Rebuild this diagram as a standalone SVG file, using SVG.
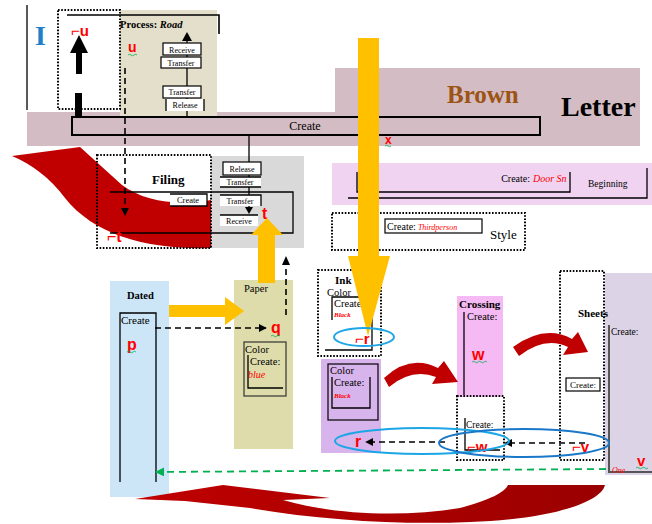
<svg xmlns="http://www.w3.org/2000/svg" width="652" height="524" viewBox="0 0 652 524">
<defs>
<style>
.s{font-family:"Liberation Serif","Times New Roman",serif;fill:#000}
.b{font-weight:bold}
.i{font-style:italic}
.red{fill:#ff0000}
.lab{font-family:"Liberation Sans","DejaVu Sans",sans-serif;fill:#ff0000;font-weight:bold}
.dot{fill:none;stroke:#000;stroke-width:2;stroke-dasharray:1.6,1.6}
.ln{fill:none;stroke:#000;stroke-width:1.3}
.box{fill:#fff;stroke:#000;stroke-width:1.2}
.dash{fill:none;stroke:#000;stroke-width:1.6;stroke-dasharray:6,4}
.wavy{fill:none;stroke:#00b050;stroke-width:0.8}
</style>
<marker id="ah" viewBox="0 0 10 10" refX="9" refY="5" markerWidth="8" markerHeight="8" markerUnits="userSpaceOnUse" orient="auto"><path d="M0,0 L10,5 L0,10 Z" fill="#000"/></marker>
<marker id="ahg" viewBox="0 0 10 10" refX="9" refY="5" markerWidth="9" markerHeight="9" markerUnits="userSpaceOnUse" orient="auto"><path d="M0,0 L10,5 L0,10 Z" fill="#00b050"/></marker>
<linearGradient id="rg" x1="0" y1="0" x2="1" y2="0"><stop offset="0" stop-color="#c00000"/><stop offset="1" stop-color="#9a0000"/></linearGradient>
</defs>
<rect width="652" height="524" fill="#fff"/>

<!-- backgrounds -->
<g id="letter-bg">
<path d="M27,112 L335,112 L335,68 L640,68 L640,146 L27,146 Z" fill="#d4bcc4"/>
<text class="s b" x="447" y="103" font-size="25" style="fill:#9c5415">Brown</text>
<text class="s b" x="561" y="116" font-size="28">Letter</text>
</g>

<g id="process-read">
<rect x="120" y="10" width="97" height="108" fill="#e3dfca"/>
<text class="s" x="120" y="28" font-size="10.5"><tspan class="b">Process:</tspan><tspan class="b i"> Road</tspan></text>
<path class="ln" d="M187,118 L187,38"/>
<path d="M182,41 L187,32 L192,41 Z" fill="#000"/>
<rect class="box" x="163" y="43" width="38" height="12"/>
<text class="s" x="182" y="52.5" font-size="8" text-anchor="middle">Receive</text>
<rect class="box" x="161" y="57" width="40" height="11"/>
<text class="s" x="181" y="65.5" font-size="8" text-anchor="middle">Transfer</text>
<rect class="box" x="163" y="86" width="38" height="12"/>
<text class="s" x="182" y="95" font-size="8" text-anchor="middle">Transfer</text>
<rect x="166" y="99" width="38" height="12" fill="#fff"/>
<path class="ln" d="M166,99 L166,111 M204,99 L204,111"/>
<text class="s" x="185" y="108" font-size="8" text-anchor="middle">Release</text>
<text class="lab" x="128" y="52" font-size="14">u</text>
<path class="wavy" d="M128,55 q1.5,-1.5 3,0 t3,0 t3,0"/>
</g>

<g id="i-block">
<path class="ln" d="M27,5 L27,110"/>
<text x="35" y="45" font-family="Liberation Serif,serif" font-size="28" font-weight="bold" fill="#1f80c8">I</text>
<rect class="dot" x="58" y="10" width="62" height="99"/>
<path d="M67,15 L219,15 L219,34" fill="none" stroke="#000" stroke-width="1.6"/>
<text class="lab" x="71" y="36" font-size="15">⌐u</text>
<path d="M70,53 L79,35 L88,53 L82,53 L82,74 L76,74 L76,53 Z" fill="#000"/>
<rect x="75" y="93" width="7" height="25" fill="#000"/>
</g>

<g id="create-bar">
<rect x="72" y="117" width="468" height="18" fill="#d4bcc4" stroke="#000" stroke-width="2"/>
<text class="s" x="305" y="130" font-size="12" text-anchor="middle">Create</text>
<text class="lab" x="385" y="144" font-size="12">x</text>
<path class="wavy" d="M385,146 q1.5,-1.5 3,0 t3,0"/>
</g>

<!-- Filing -->
<g id="filing">
<rect x="211" y="156" width="93" height="92" fill="#d9d9d9"/>
<path d="M12,156 L80,147 L122,185 C145,202 178,206 211,200 L211,248 C150,250 95,236 65,198 C50,178 33,165 12,156 Z" fill="#c00000"/>
<path class="ln" d="M110,192 L293,192 L293,233 L110,233"/>
<rect class="dot" x="97" y="155" width="114" height="93"/>
<text class="s b" x="152" y="184" font-size="13">Filing</text>
<rect x="170" y="194" width="37" height="12" fill="#fff"/>
<path class="ln" d="M170,194 L207,194 L207,206 L170,206"/>
<text class="s" x="188" y="203" font-size="8.5" text-anchor="middle">Create</text>
<path class="ln" d="M249,135 L249,207"/>
<rect class="box" x="223" y="162" width="38" height="13"/>
<text class="s" x="242" y="171.5" font-size="8" text-anchor="middle">Release</text>
<rect x="220" y="177" width="41" height="10" fill="#fff"/>
<path class="ln" d="M220,177 L261,177 M220,187 L261,187"/>
<text class="s" x="240" y="185" font-size="8" text-anchor="middle">Transfer</text>
<rect x="220" y="195" width="41" height="11" fill="#fff"/>
<path class="ln" d="M220,195 L261,195 L261,206"/>
<text class="s" x="240" y="203.5" font-size="8" text-anchor="middle">Transfer</text>
<path d="M245,207 L249,214 L253,207 Z" fill="#000"/>
<rect x="220" y="215" width="38" height="11" fill="#fff"/>
<path class="ln" d="M220,215 L258,215"/>
<text class="s" x="239" y="224" font-size="8" text-anchor="middle">Receive</text>
<text class="lab" x="262" y="219" font-size="16">t</text>
<text class="lab" x="107" y="242" font-size="16">⌐t</text>
</g>

<!-- Doc beginning -->
<g id="beginning">
<rect x="332" y="163" width="320" height="42" fill="#efd3f0"/>
<path class="ln" d="M357,172 L357,192 L570,192 L570,172"/>
<text class="s" x="530" y="182" font-size="10" text-anchor="end">Create:</text>
<text class="s i red" x="533" y="182" font-size="10">Door Sn</text>
<path class="ln" d="M348,198 L647,198 L647,168"/>
<text class="s" x="588" y="187" font-size="9.5">Beginning</text>
</g>

<g id="style">
<rect class="dot" x="332" y="213" width="193" height="37"/>
<rect class="box" x="385" y="219" width="97" height="14"/>
<text class="s" x="387" y="230" font-size="10">Create:<tspan class="i red" font-size="8"> Thirdperson</tspan></text>
<text class="s" x="490" y="239" font-size="13">Style</text>
</g>

<!-- Dated -->
<g id="dated">
<rect x="110" y="281" width="59" height="216" fill="#cce6f8"/>
<text class="s b" x="127" y="299" font-size="10.5">Dated</text>
<path class="ln" d="M120,482 L120,313 L156,313 L156,482"/>
<text class="s" x="121" y="324" font-size="11">Create</text>
<text class="lab" x="127" y="350" font-size="16">p</text>
<path class="wavy" d="M127,352 q1.5,-1.5 3,0 t3,0 t3,0"/>
</g>

<!-- Paper -->
<g id="paper">
<rect x="234" y="280" width="59" height="169" fill="#dedcab"/>
<text class="s" x="244" y="292" font-size="10.5">Paper</text>
<rect x="244" y="342" width="42" height="54" fill="none" stroke="#333" stroke-width="1.2"/>
<path class="ln" d="M248,355 L248,388 L283,388"/>
<text class="s" x="245" y="353" font-size="10.5">Color</text>
<text class="s" x="250" y="365" font-size="10.5">Create:</text>
<text class="s i red" x="248" y="378" font-size="10">blue</text>
<text class="lab" x="271" y="333" font-size="16">q</text>
<path class="wavy" d="M271,336 q1.5,-1.5 3,0 t3,0 t3,0"/>
</g>

<!-- Ink -->
<g id="ink">
<rect class="dot" x="318" y="270" width="63" height="86"/>
<text class="s b" x="335" y="284" font-size="11">Ink</text>
<path class="ln" d="M332,320 L332,297 L372,297 L372,350 L325,350"/>
<text class="s" x="327" y="296" font-size="10.5">Color</text>
<text class="s" x="334" y="307" font-size="10.5">Create:</text>
<text class="s i b red" x="334" y="317" font-size="7">Black</text>
</g>

<!-- Purple color -->
<g id="color-black">
<rect x="321" y="359" width="60" height="94" fill="#d8b4ec"/>
<rect x="328" y="364" width="50" height="56" fill="none" stroke="#000" stroke-width="1.2"/>
<path class="ln" d="M332,377 L332,408 L370,408 L370,377"/>
<text class="s" x="330" y="374" font-size="10.5">Color</text>
<text class="s" x="334" y="386" font-size="10.5">Create:</text>
<text class="s i b red" x="334" y="398" font-size="7">Black</text>
</g>

<!-- Crossing -->
<g id="crossing">
<rect x="457" y="296" width="46" height="101" fill="#f5baf3"/>
<text class="s b" x="459" y="308" font-size="11">Crossing</text>
<path class="ln" d="M464,312 L464,395"/>
<text class="s" x="467" y="320" font-size="10.5">Create:</text>
<text class="lab" x="472" y="360" font-size="16">w</text>
<path class="wavy" d="M472,362 q1.5,-1.5 3,0 t3,0 t3,0 t3,0 t3,0"/>
</g>

<g id="crossing-lower">
<rect class="dot" x="457" y="396" width="47" height="64"/>
<path class="ln" d="M465,418 L465,450 L500,450"/>
<text class="s" x="466" y="428" font-size="9.5">Create:</text>
<text class="lab" x="467" y="452" font-size="15">⌐w</text>
</g>

<!-- Sheets -->
<g id="sheets">
<rect x="605" y="273" width="47" height="202" fill="#ddd3e6"/>
<rect class="dot" x="560" y="271" width="44" height="189"/>
<text class="s b" x="578" y="317" font-size="11">Sheets</text>
<rect class="box" x="566" y="378" width="34" height="13"/>
<text class="s" x="583" y="388" font-size="9" text-anchor="middle">Create:</text>
<path d="M609,325 L609,472 L652,472" fill="none" stroke="#555" stroke-width="2"/>
<text class="s" x="611" y="335" font-size="9.5">Create:</text>
<text class="lab" x="637" y="466" font-size="15">v</text>
<path class="wavy" d="M636,468 q1.5,-1.5 3,0 t3,0 t3,0 t3,0"/>
<text class="s i red" x="612" y="473" font-size="8">One</text>
<text class="lab" x="572" y="452" font-size="15">⌐v</text>
</g>

<g id="r-labels">
<text class="lab" x="355" y="344" font-size="15">⌐r</text>
<text class="lab" x="355" y="447" font-size="16">r</text>
<path class="wavy" d="M356,450 q1,-1 2,0 t2,0"/>
</g>

<!-- connectors -->
<g id="connectors">
<path d="M358,38 L379,38 L379,256 L390,256 L368,336 L348,256 L358,256 Z" fill="#ffc000"/>
<path d="M258,283 L258,235 L251,235 L267,218 L283,235 L275,235 L275,283 Z" fill="#ffc000"/>
<path d="M169,305 L225,305 L225,297 L244,311 L225,325 L225,317 L169,317 Z" fill="#ffc000"/>
<path class="dash" d="M125,68 L125,210"/>
<path d="M121,208 L125,216 L129,208 Z" fill="#000"/>
<path class="dash" d="M286,315 L286,264"/>
<path d="M282,265 L286,256 L290,265 Z" fill="#000"/>
<path class="dash" d="M155,328 L266,328" marker-end="url(#ah)"/>
<path class="dash" d="M445,442 L366,442" marker-end="url(#ah)"/>
<path class="dash" d="M585,443 L505,443" marker-end="url(#ah)"/>
<path d="M606,469 L156,472" fill="none" stroke="#00b050" stroke-width="1.8" stroke-dasharray="7,5" marker-end="url(#ahg)"/>
<ellipse cx="364" cy="337" rx="30" ry="9" fill="none" stroke="#1ca6e6" stroke-width="2"/>
<ellipse cx="422" cy="441" rx="87" ry="13" fill="none" stroke="#1ca6e6" stroke-width="2"/>
<ellipse cx="524" cy="443" rx="85" ry="14" fill="none" stroke="#1a78c8" stroke-width="2"/>
<path d="M384,378 Q410,354 438,368 L444,361 L458,382 L432,384 L436,377 Q412,368 389,387 Z" fill="#c00000"/>
<path d="M513,347 Q545,324 572,339 L578,332 L588,352 L563,355 L568,347 Q545,336 519,356 Z" fill="#c00000"/>
<path d="M135,499 L223,485 L330,498 L283,500 C330,514 400,518 460,508 C490,500 505,492 508,485 L605,485 C600,505 540,520 470,522 C400,525 320,520 250,508 L185,501 Z" fill="url(#rg)"/>
</g>
</svg>
